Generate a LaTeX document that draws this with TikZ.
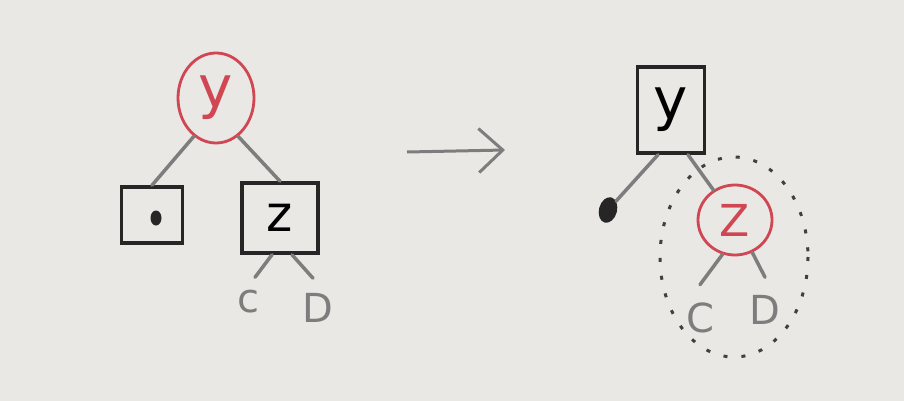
\documentclass[tikz,border=0pt]{standalone}
\usepackage{fontspec}
\setmainfont{DejaVu Sans}
\usetikzlibrary{arrows.meta,shapes.geometric}

\definecolor{paper}{RGB}{233,232,228}
\definecolor{penred}{RGB}{208,70,82}
\definecolor{pengray}{RGB}{125,125,125}

\begin{document}
\begin{tikzpicture}[x=1pt, y=-1pt, font=\fontsize{44}{44}\selectfont,
    redcirc/.style={ellipse, draw=penred, text=penred, line width=2.8pt, inner sep=0pt},
    blackbox/.style={rectangle, draw=black!85, line width=3.5pt, inner sep=0pt},
    blob/.style={ellipse, fill=black!85, inner sep=0pt},
    bigletter/.style={font=\fontsize{58}{58}\selectfont},
    edge/.style={draw=pengray, line width=3.5pt, line cap=round},
    leaf/.style={text=pengray, inner sep=1pt, font=\fontsize{40}{40}\selectfont},
    group/.style={draw=black!75, line width=3pt, dash pattern=on 4pt off 14pt}]
    \fill[paper] (0,0) rectangle (904,401);
    \useasboundingbox (0,0) rectangle (904,401);
    % before
    \node[redcirc, bigletter, minimum width=76pt, minimum height=90pt] (y1) at (216,98) {y};
    \node[blackbox, minimum width=61pt, minimum height=56pt] (l1) at (152,215) {};
    \node[blob, minimum width=11pt, minimum height=15pt] (dot1) at (156,218) {};
    \node[blackbox, font=\fontsize{50}{50}\selectfont, minimum width=76pt, minimum height=70pt] (z1) at (280,218) {z};
    \node[leaf] (c1) at (248,302) {c};
    \node[leaf] (d1) at (318,308) {D};
    \draw[edge] (y1.-120) -- (l1.north);
    \draw[edge] (y1.-60) -- (z1.north);
    \draw[edge] ([xshift=-8pt]z1.south) -- ([xshift=7pt,yshift=12pt]c1.north);
    \draw[edge] ([xshift=12pt]z1.south) -- ([xshift=-5pt,yshift=14pt]d1.north);
    % rotation
    \coordinate (a1) at (407,152);
    \coordinate (a2) at (505,150);
    \draw[draw=pengray, line width=3pt, -{Straight Barb[length=24pt,width=44pt]}] (a1) -- (a2);
    % after
    \node[blackbox, bigletter, minimum width=67pt, minimum height=86pt] (y2) at (671,110) {y};
    \node[blob, minimum width=18pt, minimum height=26pt, rotate=-15] (dot2) at (608,210) {};
    \node[redcirc, minimum width=74pt, minimum height=70pt] (z2) at (735,220) {Z};
    \node[leaf] (c2) at (700,318) {C};
    \node[leaf] (d2) at (765,310) {D};
    \draw[edge] ([xshift=-13pt]y2.south) -- (dot2);
    \draw[edge] ([xshift=17pt]y2.south) -- (z2);
    \draw[edge] (z2.-110) -- ([yshift=17pt]c2.north);
    \draw[edge] (z2.-62) -- ([yshift=17pt]d2.north);
    \draw[group] (734,257) ellipse [x radius=74, y radius=100];
\end{tikzpicture}
\end{document}
